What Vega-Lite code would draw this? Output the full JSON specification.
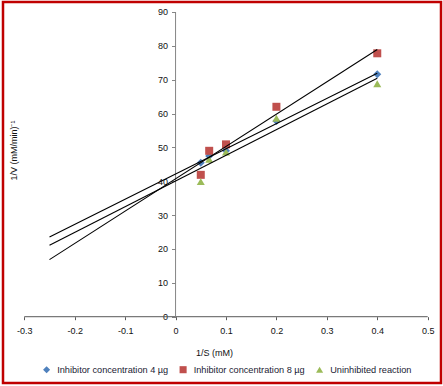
{
  "$schema": "https://vega.github.io/schema/vega-lite/v6.json",
  "width": 438,
  "height": 381,
  "autosize": {"type": "none"},
  "padding": {"left": 3, "top": 2, "right": 2, "bottom": 3},
  "background": "white",
  "config": {
    "view": {"stroke": "#C00000", "strokeWidth": 2.5},
    "font": "Liberation Sans",
    "axis": {"grid": false, "domain": false, "labelFont": "Liberation Sans", "titleFont": "Liberation Sans", "labelFontSize": 9, "titleFontSize": 9, "titleFontWeight": "normal", "labelColor": "#111", "titleColor": "#111"},
    "legend": {"labelFont": "Liberation Sans", "labelFontSize": 9.2, "labelColor": "#1a1a33"}
  },
  "datasets": {
    "pts": [
      {"x": 0.05, "y": 45.5, "series": "Inhibitor concentration 4 µg"},
      {"x": 0.0667, "y": 47.5, "series": "Inhibitor concentration 4 µg"},
      {"x": 0.1, "y": 49.0, "series": "Inhibitor concentration 4 µg"},
      {"x": 0.2, "y": 57.8, "series": "Inhibitor concentration 4 µg"},
      {"x": 0.4, "y": 71.6, "series": "Inhibitor concentration 4 µg"},
      {"x": 0.05, "y": 41.9, "series": "Inhibitor concentration 8 µg"},
      {"x": 0.0667, "y": 49.0, "series": "Inhibitor concentration 8 µg"},
      {"x": 0.1, "y": 50.9, "series": "Inhibitor concentration 8 µg"},
      {"x": 0.2, "y": 62.0, "series": "Inhibitor concentration 8 µg"},
      {"x": 0.4, "y": 77.8, "series": "Inhibitor concentration 8 µg"},
      {"x": 0.05, "y": 39.9, "series": "Uninhibited reaction"},
      {"x": 0.0667, "y": 46.5, "series": "Uninhibited reaction"},
      {"x": 0.1, "y": 48.6, "series": "Uninhibited reaction"},
      {"x": 0.2, "y": 58.6, "series": "Uninhibited reaction"},
      {"x": 0.4, "y": 68.8, "series": "Uninhibited reaction"}
    ]
  },
  "layer": [
    {
      "data": {"values": [{"x": -0.3, "x2": 0.5, "y": 0}]},
      "mark": {"type": "rule", "color": "#595959", "strokeWidth": 1},
      "encoding": {
        "x": {"field": "x", "type": "quantitative", "scale": {"domain": [-0.3422, 0.5264], "nice": false, "zero": false}},
        "x2": {"field": "x2"},
        "y": {"field": "y", "type": "quantitative", "scale": {"domain": [-19.58, 92.95], "nice": false, "zero": false}}
      }
    },
    {
      "data": {"values": [{"x": 0, "y": 0, "y2": 90}]},
      "mark": {"type": "rule", "color": "#868686", "strokeWidth": 1},
      "encoding": {
        "x": {"field": "x", "type": "quantitative", "scale": {"domain": [-0.3422, 0.5264], "nice": false, "zero": false}},
        "y": {"field": "y", "type": "quantitative", "scale": {"domain": [-19.58, 92.95], "nice": false, "zero": false}},
        "y2": {"field": "y2"}
      }
    },
    {
      "data": {"name": "pts"},
      "mark": {"type": "point", "filled": true, "opacity": 1, "size": 64},
      "encoding": {
        "x": {
          "field": "x", "type": "quantitative",
          "scale": {"domain": [-0.3422, 0.5264], "nice": false, "zero": false},
          "axis": {
            "orient": "bottom", "offset": -66.3, "title": "1/S (mM)",
            "values": [-0.3, -0.2, -0.1, 0, 0.1, 0.2, 0.3, 0.4, 0.5],
            "labelExpr": "replace(format(datum.value, '.1~f'), '\u2212', '-')",
            "tickSize": 3, "tickColor": "#595959", "labelPadding": 7,
            "titleX": 211, "titleY": 35.3, "titleBaseline": "middle", "titleAlign": "center", "titleAnchor": null
          }
        },
        "y": {
          "field": "y", "type": "quantitative",
          "scale": {"domain": [-19.58, 92.95], "nice": false, "zero": false},
          "axis": {
            "orient": "left", "offset": -172.5, "title": "1/V (mM/min)\u207b\u00b9",
            "values": [0, 10, 20, 30, 40, 50, 60, 70, 80, 90],
            "tickSize": 4, "tickColor": "#868686", "labelPadding": 4,
            "titleX": -162, "titleY": 148, "titleAngle": -90, "titleBaseline": "middle", "titleAlign": "center"
          }
        },
        "color": {
          "field": "series", "type": "nominal",
          "scale": {"domain": ["Inhibitor concentration 4 µg", "Inhibitor concentration 8 µg", "Uninhibited reaction"], "range": ["#4F81BD", "#C0504D", "#9BBB59"]},
          "legend": {"title": null, "orient": "none", "direction": "horizontal", "columns": 3, "legendX": 39, "legendY": 363, "padding": 0, "columnPadding": 9.5, "labelOffset": 6, "symbolSize": 50}
        },
        "shape": {
          "field": "series", "type": "nominal",
          "scale": {"domain": ["Inhibitor concentration 4 µg", "Inhibitor concentration 8 µg", "Uninhibited reaction"], "range": ["diamond", "square", "triangle-up"]},
          "legend": {"title": null, "orient": "none", "direction": "horizontal", "columns": 3, "legendX": 39, "legendY": 363, "padding": 0, "columnPadding": 9.5, "labelOffset": 6, "symbolSize": 50}
        }
      }
    },
    {
      "data": {"name": "pts"},
      "transform": [{"regression": "y", "on": "x", "groupby": ["series"], "extent": [-0.25, 0.4]}],
      "mark": {"type": "line", "color": "black", "strokeWidth": 1.1},
      "encoding": {
        "x": {"field": "x", "type": "quantitative", "scale": {"domain": [-0.3422, 0.5264], "nice": false, "zero": false}},
        "y": {"field": "y", "type": "quantitative", "scale": {"domain": [-19.58, 92.95], "nice": false, "zero": false}},
        "detail": {"field": "series", "type": "nominal"}
      }
    }
  ]
}
